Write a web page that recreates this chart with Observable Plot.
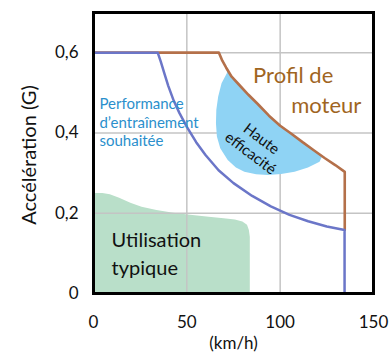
<!DOCTYPE html>
<html>
<head>
<meta charset="utf-8">
<script src="https://cdn.jsdelivr.net/npm/d3@7"></script>
<script src="https://cdn.jsdelivr.net/npm/@observablehq/plot@0.6"></script>
<style>
  html, body { margin: 0; padding: 0; background: #fff; }
  #chart { width: 389px; height: 354px; }
</style>
</head>
<body>
<div id="chart"></div>
<script>
// ---- data ----
const xTicks = [0, 50, 100, 150];
const xTickLabels = ["0", "50", "100", "150"];
const yTicks = [0, 0.2, 0.4, 0.6];
const yTickLabels = ["0", "0,2", "0,4", "0,6"];

// Performance d'entraînement souhaitée (blue line)
const perfSpeed = [0, 34.4, 36, 38, 40, 43, 46, 50, 55, 60, 67, 75, 85, 95, 105, 115, 125, 134.5, 134.5];
const perfAccel = [0.6, 0.6, 0.578, 0.548, 0.518, 0.48, 0.45, 0.415, 0.377, 0.345, 0.307, 0.275, 0.243, 0.217, 0.196, 0.18, 0.167, 0.158, 0];

// Profil de moteur (brown line)
const motorSpeed = [0, 67.2, 69, 71, 74, 78, 83, 88, 94, 100, 106, 112, 118, 124, 129.5, 134.6, 134.6];
const motorAccel = [0.6, 0.6, 0.58, 0.563, 0.54, 0.52, 0.495, 0.472, 0.443, 0.418, 0.398, 0.377, 0.357, 0.337, 0.32, 0.303, 0.158];

// Utilisation typique (green area)
const typSpeed = [0, 5, 9, 14, 20, 26, 34, 43, 52, 62, 70, 76, 80, 82.5, 83.5, 84, 84];
const typAccel = [0.249, 0.249, 0.246, 0.237, 0.225, 0.215, 0.207, 0.2, 0.195, 0.19, 0.186, 0.183, 0.178, 0.17, 0.157, 0.14, 0];

// Haute efficacité (blue region outline)
const effSpeed = [71.5, 68.6, 66.8, 65.8, 65.6, 66.1, 67.9, 71.9, 76.3, 80.8, 87.1, 93.4, 100.5, 107.7, 114.9, 121.1, 122.5, 118, 112, 106, 100, 94, 88, 83, 78, 74, 71.5];
const effAccel = [0.549, 0.524, 0.491, 0.4575, 0.424, 0.391, 0.362, 0.3325, 0.314, 0.303, 0.297, 0.295, 0.2975, 0.303, 0.314, 0.328, 0.342, 0.357, 0.377, 0.398, 0.418, 0.443, 0.472, 0.495, 0.52, 0.54, 0.556];

const yLabel = "Accélération (G)";
const xLabel = "(km/h)";
const perfLabel = "Performance\nd\u2019entraînement\nsouhaitée";
const motorLabel1 = "Profil de";
const motorLabel2 = "moteur";
const effLabel = "Haute\nefficacité";
const typLabel = "Utilisation\ntypique";

// ---- build tables ----
const perf = perfSpeed.map((x, i) => ({x, y: perfAccel[i]}));
const motor = motorSpeed.map((x, i) => ({x, y: motorAccel[i]}));
const typ = typSpeed.map((x, i) => ({x, y: typAccel[i]}));
const eff = effSpeed.map((x, i) => ({x, y: effAccel[i]}));

const chart = Plot.plot({
  width: 389,
  height: 354,
  marginLeft: 93,
  marginRight: 16,
  marginTop: 12,
  marginBottom: 61,
  style: {fontFamily: "Lato, sans-serif", fontSize: "17px", background: "#fff", color: "#111"},
  x: {domain: [0, 150]},
  y: {domain: [0, 0.7]},
  marks: [
    Plot.areaY(typ, {x: "x", y: "y", fill: "#b9dfc9"}),
    Plot.gridX({ticks: [50, 100], stroke: "#c4c4c4", strokeOpacity: 1, strokeWidth: 1.5}),
    Plot.gridY({ticks: [0.2, 0.4, 0.6], stroke: "#c4c4c4", strokeOpacity: 1, strokeWidth: 1.5}),
    Plot.line(eff, {x: "x", y: "y", fill: "#8fd3f4", stroke: "none"}),
    Plot.line(motor, {x: "x", y: "y", stroke: "#b4704a", strokeWidth: 2.6}),
    Plot.line(perf, {x: "x", y: "y", stroke: "#6b76c8", strokeWidth: 2.5}),
    Plot.frame({stroke: "#000", strokeWidth: 3}),
    Plot.axisX({ticks: xTicks, tickFormat: (d) => xTickLabels[xTicks.indexOf(d)], tickSize: 0, tickPadding: 22, fontSize: 17, label: null}),
    Plot.axisY({ticks: yTicks, tickFormat: (d) => yTickLabels[yTicks.indexOf(d)], tickSize: 0, tickPadding: 15, fontSize: 17, label: null}),
    Plot.text([yLabel], {frameAnchor: "left", textAnchor: "middle", lineAnchor: "middle", dx: -64, dy: 2, rotate: -90, fontSize: 20, text: d => d}),
    Plot.text([xLabel], {frameAnchor: "bottom", dy: 55, lineAnchor: "bottom", fontSize: 17, text: d => d}),
    Plot.text([perfLabel], {x: 3.2, y: 0.3675, text: d => d, textAnchor: "start", lineAnchor: "bottom", lineHeight: 1.23, fontSize: 15, fill: "#2b8fcc"}),
    Plot.text([motorLabel1], {x: 85.5, y: 0.524, text: d => d, textAnchor: "start", lineAnchor: "bottom", fontSize: 22, fill: "#a0651f"}),
    Plot.text([motorLabel2], {x: 105.9, y: 0.449, text: d => d, textAnchor: "start", lineAnchor: "bottom", fontSize: 22, fill: "#a0651f"}),
    Plot.text([effLabel], {x: 87.3, y: 0.369, text: d => d, rotate: 37, lineHeight: 1.2, fontSize: 15, fill: "#111"}),
    Plot.text([typLabel], {x: 9.7, y: 0.0468, text: d => d, textAnchor: "start", lineAnchor: "bottom", lineHeight: 1.38, fontSize: 20, fill: "#111"})
  ]
});
document.getElementById("chart").appendChild(chart);
</script>
</body>
</html>
